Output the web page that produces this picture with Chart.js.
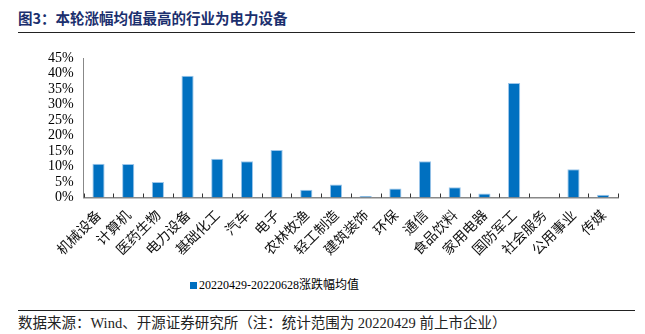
<!DOCTYPE html>
<html>
<head>
<meta charset="utf-8">
<script src="https://cdn.jsdelivr.net/npm/chart.js@4/dist/chart.umd.min.js"></script>
<style>
  html, body { margin: 0; padding: 0; background: #fff; }
  #page { position: relative; width: 645px; height: 334px; overflow: hidden; }
  #title {
    position: absolute; left: 18px; top: 6px; width: 617px; height: 26px;
    border-bottom: 1.5px solid #222;
    font: bold 14.5px "Noto Sans CJK SC", sans-serif; color: #1b2f6e; line-height: 24px;
  }
  #box { position: absolute; left: 0; top: 36px; width: 645px; height: 231px; }
  #legend {
    position: absolute; left: 190px; top: 275px;
    font: 12px "Liberation Serif", "Noto Sans CJK SC", serif; color: #000;
  }
  #legend span.sw { display: inline-block; width: 7px; height: 7px; background: #0070C0; margin-right: 2px; }
  #foot {
    position: absolute; left: 18px; top: 310px; width: 617px;
    border-top: 1px solid #222; line-height: 18px;
    font: 14.5px "Liberation Serif", "Noto Sans CJK SC", serif; color: #222;
  }
</style>
</head>
<body>
<div id="page">
  <div id="title">图3：本轮涨幅均值最高的行业为电力设备</div>
  <div id="box"><canvas id="chart"></canvas></div>
  <div id="legend"><span class="sw"></span>20220429-20220628涨跌幅均值</div>
  <div id="foot">数据来源：Wind、开源证券研究所（注：统计范围为 20220429 前上市企业）</div>
</div>
<script>
const industries = ['机械设备', '计算机', '医药生物', '电力设备', '基础化工', '汽车', '电子', '农林牧渔', '轻工制造',
  '建筑装饰', '环保', '通信', '食品饮料', '家用电器', '国防军工', '社会服务', '公用事业', '传媒'];
const avgChange = [10.9, 10.8, 5.0, 39.3, 12.5, 11.7, 15.3, 2.5, 4.2,
  0.5, 2.9, 11.7, 3.3, 1.3, 36.9, 0, 9.1, 0.9];
const seriesName = '20220429-20220628涨跌幅均值';
const yTicks = [0, 5, 10, 15, 20, 25, 30, 35, 40, 45];

// short tick marks pointing into the plot, at category boundaries
const innerTicks = {
  id: 'innerTicks',
  afterDatasetsDraw(chart) {
    const ctx = chart.ctx;
    const x = chart.scales.x;
    const area = chart.chartArea;
    ctx.save();
    ctx.strokeStyle = '#333';
    ctx.lineWidth = 1;
    ctx.beginPath();
    const half = (x.getPixelForValue(1) - x.getPixelForValue(0)) / 2;
    for (let i = 0; i <= industries.length; i++) {
      const px = Math.round(x.getPixelForValue(i) - half) + 0.5;
      ctx.moveTo(px, area.bottom);
      ctx.lineTo(px, area.bottom - 4);
    }
    ctx.stroke();
    ctx.restore();
  }
};

new Chart(document.getElementById('chart'), {
  type: 'bar',
  data: {
    labels: industries,
    datasets: [{
      label: seriesName,
      data: avgChange,
      backgroundColor: '#0070C0',
      borderColor: '#9cc6ea',
      borderWidth: { top: 1, left: 1, right: 1, bottom: 0 },
      barPercentage: 0.41,
      categoryPercentage: 1
    }]
  },
  options: {
    responsive: true,
    maintainAspectRatio: false,
    animation: false,
    layout: { padding: { left: 38, right: 27, top: 22, bottom: 0 } },
    plugins: {
      legend: { display: false },
      tooltip: { enabled: false }
    },
    scales: {
      x: {
        offset: true,
        grid: { display: false, drawTicks: false },
        border: { color: '#888', width: 1.5 },
        ticks: {
          minRotation: 45, maxRotation: 45, autoSkip: false, padding: 9,
          color: '#111',
          font: { family: '"Noto Sans CJK SC", sans-serif', size: 14 }
        }
      },
      y: {
        min: 0, max: 45,
        afterBuildTicks: axis => { axis.ticks = yTicks.map(v => ({ value: v })); },
        grid: { display: false, drawTicks: false },
        border: { color: '#888', width: 1 },
        ticks: {
          autoSkip: false,
          padding: 10,
          color: '#000',
          font: { family: '"Liberation Serif", serif', size: 14 },
          callback: v => v + '%'
        }
      }
    }
  },
  plugins: [innerTicks]
});
</script>
</body>
</html>
